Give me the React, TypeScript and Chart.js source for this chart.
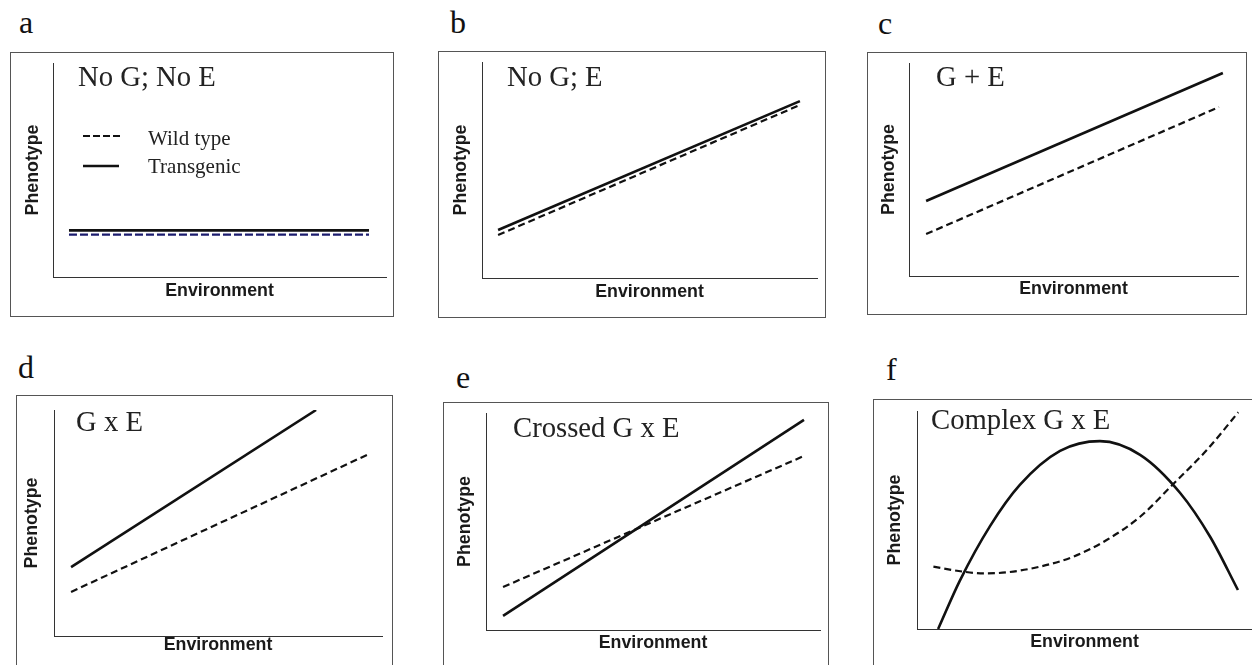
import React, { useEffect, useRef } from 'react';
import { Chart, registerables } from 'chart.js';

Chart.register(...registerables);

// ---------- text ----------
const panelLetters = ['a', 'b', 'c', 'd', 'e', 'f'];
const panelTitles = ['No G; No E', 'No G; E', 'G + E', 'G x E', 'Crossed G x E', 'Complex G x E'];
const legendLabels = ['Wild type', 'Transgenic'];
const xAxisTitle = 'Environment';
const yAxisTitle = 'Phenotype';

// ---------- data (x: environment 0-10, y: phenotype 0-10) ----------
// a: No G; No E
const aX = [0.48, 9.49];
const aWild = [1.98, 1.98];
const aTrans = [2.18, 2.18];
// b: No G; E
const bX = [0.48, 9.49];
const bWild = [1.99, 8.01];
const bTrans = [2.22, 8.19];
// c: G + E
const cWildX = [0.52, 9.42];
const cWild = [1.97, 7.93];
const cTransX = [0.52, 9.54];
const cTrans = [3.52, 9.53];
// d: G x E
const dWildX = [0.52, 9.54];
const dWild = [1.95, 8.01];
const dTransX = [0.52, 7.99];
const dTrans = [3.05, 10.0];
// e: Crossed G x E
const eX = [0.51, 9.52];
const eWild = [1.98, 8.02];
const eTrans = [0.65, 9.68];
// f: Complex G x E
const fWildX = [0.49, 1.38, 1.98, 2.68, 3.67, 4.67, 5.66, 6.66, 7.65, 8.65, 9.59];
const fWild = [2.86, 2.63, 2.55, 2.6, 2.86, 3.32, 4.08, 5.15, 6.65, 8.21, 9.94];
const fTransX = [0.63, 1.28, 2.18, 3.07, 4.27, 5.46, 6.66, 7.85, 8.75, 9.58];
const fTrans = [0, 2.22, 4.72, 6.61, 8.17, 8.62, 7.99, 6.25, 4.23, 1.79];

const zip = (xs: number[], ys: number[]) => xs.map((x, i) => ({ x, y: ys[i] }));

const panelSeries = [
  { wild: zip(aX, aWild), trans: zip(aX, aTrans), curved: false },
  { wild: zip(bX, bWild), trans: zip(bX, bTrans), curved: false },
  { wild: zip(cWildX, cWild), trans: zip(cTransX, cTrans), curved: false },
  { wild: zip(dWildX, dWild), trans: zip(dTransX, dTrans), curved: false },
  { wild: zip(eX, eWild), trans: zip(eX, eTrans), curved: false },
  { wild: zip(fWildX, fWild), trans: zip(fTransX, fTrans), curved: true },
];

// ---------- layout (page pixels) ----------
const PAGE_W = 1252;
const PAGE_H = 665;
const layouts = [
  { box: [10, 52, 394, 317], area: [53, 63, 386, 277], yT: 33, xT: 290.7, title: [78, 86], letter: [19, 33] },
  { box: [438, 51, 826, 318], area: [482, 62, 817, 278], yT: 461, xT: 291.7, title: [507, 85.5], letter: [450, 33] },
  { box: [867, 52, 1247, 315], area: [909, 63, 1238, 276], yT: 888.7, xT: 289.3, title: [936, 85.5], letter: [878, 34] },
  { box: [16, 395, 393, 700], area: [54, 410, 382, 636], yT: 32.1, xT: 645, title: [76, 431], letter: [18, 378] },
  { box: [443, 402, 829, 700], area: [486, 413, 820, 630], yT: 464.7, xT: 643.3, title: [513, 437], letter: [456, 388] },
  { box: [873, 399, 1270, 700], area: [917, 411, 1252, 629], yT: 895.6, xT: 642.3, title: [931, 429], letter: [886, 380] },
];

const AXIS_FONT_SIZE = 17.8;
const AXIS_LH = 1.2;

function Panel({ idx }: { idx: number }) {
  const ref = useRef<HTMLCanvasElement | null>(null);
  const L = layouts[idx];
  const cl = L.box[0];
  const ct = L.box[1];
  const cr = Math.min(L.box[2], PAGE_W);
  const cb = Math.min(L.box[3], PAGE_H);
  const w = cr - cl;
  const h = cb - ct;

  useEffect(() => {
    if (!ref.current) return;
    const s = panelSeries[idx];
    const half = (AXIS_FONT_SIZE * AXIS_LH) / 2;
    const isA = idx === 0;

    const overlay = {
      id: 'overlay' + idx,
      afterDraw(chart: any) {
        const ctx = chart.ctx;
        ctx.save();
        ctx.fillStyle = '#222';
        ctx.textBaseline = 'alphabetic';
        ctx.textAlign = 'left';
        ctx.font = "28.7px 'Liberation Serif'";
        ctx.fillText(panelTitles[idx], L.title[0] - cl, L.title[1] - ct);
        if (isA) {
          // legend
          ctx.strokeStyle = '#111';
          ctx.lineWidth = 2.2;
          ctx.setLineDash([7, 3]);
          ctx.beginPath();
          ctx.moveTo(83 - cl, 136 - ct);
          ctx.lineTo(120 - cl, 136 - ct);
          ctx.stroke();
          ctx.setLineDash([]);
          ctx.lineWidth = 2.6;
          ctx.beginPath();
          ctx.moveTo(83 - cl, 166 - ct);
          ctx.lineTo(119 - cl, 166 - ct);
          ctx.stroke();
          ctx.font = "21px 'Liberation Serif'";
          ctx.fillText(legendLabels[0], 148 - cl, 145 - ct);
          ctx.fillText(legendLabels[1], 148 - cl, 173 - ct);
        }
        ctx.restore();
      },
    };

    const titleFont = { family: "'Liberation Sans', Arial, sans-serif", size: AXIS_FONT_SIZE, weight: 'bold' as const, lineHeight: AXIS_LH };

    const chart = new Chart(ref.current, {
      type: 'line',
      data: {
        datasets: [
          {
            label: legendLabels[0],
            data: s.wild,
            borderColor: isA ? '#1c1c6e' : '#111',
            borderWidth: 2.2,
            borderDash: isA ? [8, 3] : [7, 4],
            pointRadius: 0,
            cubicInterpolationMode: s.curved ? 'monotone' : 'default',
            tension: 0,
            fill: false,
          },
          {
            label: legendLabels[1],
            data: s.trans,
            borderColor: '#111',
            borderWidth: 2.6,
            pointRadius: 0,
            cubicInterpolationMode: s.curved ? 'monotone' : 'default',
            tension: 0,
            fill: false,
          },
        ],
      },
      options: {
        responsive: false,
        animation: false,
        events: [],
        layout: {
          padding: { left: 0, top: L.area[1] - ct, right: cr - L.area[2], bottom: 0 },
        },
        plugins: { legend: { display: false }, tooltip: { enabled: false }, title: { display: false } },
        scales: {
          x: {
            type: 'linear',
            min: 0,
            max: 10,
            grid: { display: false },
            ticks: { display: false },
            border: { display: true, color: '#333', width: 1 },
            title: {
              display: true,
              text: xAxisTitle,
              color: '#1a1a1a',
              font: titleFont,
              padding: { top: 0, bottom: h - (L.xT - ct) - half },
            },
            afterFit: (sc: any) => {
              sc.height = cb - L.area[3];
            },
          },
          y: {
            type: 'linear',
            min: 0,
            max: 10,
            grid: { display: false },
            ticks: { display: false },
            border: { display: true, color: '#333', width: 1 },
            title: {
              display: true,
              text: yAxisTitle,
              color: '#1a1a1a',
              font: titleFont,
              padding: { top: L.yT - cl - half, bottom: 0 },
            },
            afterFit: (sc: any) => {
              sc.width = L.area[0] - cl;
            },
          },
        },
      },
      plugins: [overlay],
    });
    return () => chart.destroy();
  }, [idx]);

  return (
    <>
      <div
        style={{
          position: 'absolute',
          left: L.box[0],
          top: L.box[1],
          width: L.box[2] - L.box[0],
          height: L.box[3] - L.box[1],
          border: '1px solid #555',
          boxSizing: 'border-box',
        }}
      />
      <canvas
        ref={ref}
        width={w}
        height={h}
        style={{ position: 'absolute', left: cl, top: ct, width: w, height: h }}
      />
      <span
        style={{
          position: 'absolute',
          left: L.letter[0],
          top: L.letter[1] - 26.8,
          font: "32px 'Liberation Serif'",
          lineHeight: '32px',
          color: '#111',
          whiteSpace: 'nowrap',
        }}
      >
        {panelLetters[idx]}
      </span>
    </>
  );
}

export default function App() {
  return (
    <div
      style={{
        position: 'fixed',
        left: 0,
        top: 0,
        width: PAGE_W,
        height: PAGE_H,
        overflow: 'hidden',
        background: '#fff',
      }}
    >
      {layouts.map((_, i) => (
        <Panel key={i} idx={i} />
      ))}
    </div>
  );
}
